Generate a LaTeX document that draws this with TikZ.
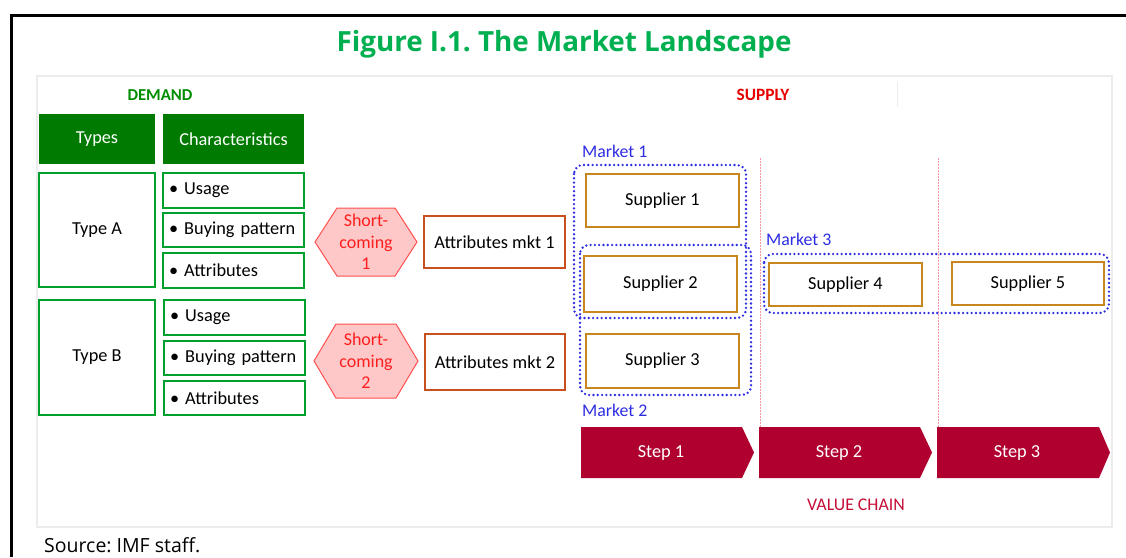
\documentclass[tikz,border=0pt]{standalone}
\usepackage{fontspec}
\setmainfont{Carlito}
\newfontfamily\opensans{Open Sans}
\frenchspacing
\usetikzlibrary{calc}
\definecolor{titlegreen}{RGB}{0,176,80}
\definecolor{demgreen}{RGB}{0,140,0}
\definecolor{headgreen}{RGB}{0,122,0}
\definecolor{boxgreen}{RGB}{0,160,45}
\definecolor{supred}{RGB}{230,0,0}
\definecolor{hexfill}{RGB}{255,200,200}
\definecolor{hexline}{RGB}{255,80,80}
\definecolor{hextext}{RGB}{255,30,30}
\definecolor{attrline}{RGB}{200,80,30}
\definecolor{supline}{RGB}{200,135,30}
\definecolor{mktblue}{RGB}{45,45,225}
\definecolor{steprd}{RGB}{176,0,48}
\definecolor{vcred}{RGB}{195,15,55}
\definecolor{panelgray}{RGB}{236,236,236}
\definecolor{divpink}{RGB}{245,150,160}
\tikzset{
  basefont/.style={font=\fontsize{18.3}{21}\selectfont},
  greenbox/.style={draw=boxgreen, line width=1.8pt, fill=white, basefont, inner sep=0pt},
  headbox/.style={fill=headgreen, text=white, basefont, inner sep=0pt},
  charbox/.style={greenbox, text width=129pt, inner xsep=6pt, align=left},
  hexshape/.style={fill=hexfill, draw=hexline, line width=1pt},
  hexlabel/.style={text=hextext, align=center, font=\fontsize{18}{21.5}\selectfont},
  attrbox/.style={draw=attrline, line width=1.5pt, fill=white, basefont, inner sep=0pt},
  supbox/.style={draw=supline, line width=2pt, fill=white, basefont, inner sep=0pt},
  mktdot/.style={draw=mktblue, line width=2.6pt, dash pattern=on 0pt off 4.3pt, line cap=round, rounded corners=9pt},
  mktlabel/.style={text=mktblue, font=\fontsize{17.8}{21}\selectfont, anchor=west, inner sep=0pt},
  stepshape/.style={fill=steprd},
  steplabel/.style={text=white, basefont},
  divline/.style={draw=divpink, line width=0.8pt, dash pattern=on 1.5pt off 1.5pt},
}
\begin{document}
\begin{tikzpicture}[x=1pt,y=-1pt]
\useasboundingbox (0,0) rectangle (1126,557);
% outer frame
\draw[line width=3pt] (11,557) -- (11,15) -- (1126,15);
% title
\node[text=titlegreen, font=\opensans\bfseries\fontsize{27.8}{32}\selectfont] (title) at (564,44) {Figure I.1. The Market Landscape};
% panel
\draw[draw=panelgray, line width=2pt] (37,76) rectangle (1112,527);
\draw[draw=panelgray, line width=1pt] (897,81) -- (897,107);
% section labels
\node[text=demgreen, font=\bfseries\fontsize{16.7}{19}\selectfont] (demand) at (160,95) {DEMAND};
\node[text=supred, font=\bfseries\fontsize{17.3}{19}\selectfont] (supply) at (763,95) {SUPPLY};
% demand table
\node[headbox, minimum width=116pt, minimum height=50pt] (types) at (97,139) {Types};
\node[headbox, minimum width=141pt, minimum height=50pt] (chars) at (233.5,139) {Characteristics};
\node[greenbox, minimum width=116pt, minimum height=114pt] (typeA) at (97,230) {Type A};
\node[charbox, minimum height=35pt] (usageA) at (233.5,190.5) {• Usage};
\node[charbox, minimum height=34pt] (buyA) at (233.5,230) {• Buying pattern};
\node[charbox, minimum height=35pt] (attrA) at (233.5,270.5) {• Attributes};
\node[greenbox, minimum width=116pt, minimum height=115pt] (typeB) at (97,357.5) {Type B};
\node[charbox, minimum height=35pt] (usageB) at (234.5,317.5) {• Usage};
\node[charbox, minimum height=34pt] (buyB) at (234.5,358) {• Buying pattern};
\node[charbox, minimum height=34pt] (attrB) at (234.5,398) {• Attributes};
% shortcomings
\draw[hexshape, shift={(366,242)}] (-51,0) -- (-29,-34) -- (29,-34) -- (51,0) -- (29,34) -- (-29,34) -- cycle;
\node[hexlabel] (short1) at (366,242) {Short-\\coming\\1};
\draw[hexshape, shift={(366,361)}] (-52,0) -- (-30,-37) -- (30,-37) -- (52,0) -- (30,37) -- (-30,37) -- cycle;
\node[hexlabel] (short2) at (366,361) {Short-\\coming\\2};
% attributes per market
\node[attrbox, minimum width=141pt, minimum height=52pt] (amkt1) at (494.5,242) {Attributes mkt 1};
\node[attrbox, minimum width=140pt, minimum height=56pt] (amkt2) at (495,362) {Attributes mkt 2};
% value chain dividers
\draw[divline] (760,158) -- (760,427);
\draw[divline] (938,158) -- (938,427);
% suppliers
\node[supbox, minimum width=153pt, minimum height=53pt] (sup1) at (662.5,200.5) {Supplier 1};
\node[supbox, minimum width=153pt, minimum height=56pt] (sup2) at (660.5,284) {Supplier 2};
\node[supbox, minimum width=153pt, minimum height=54pt] (sup3) at (662.5,361) {Supplier 3};
\node[supbox, minimum width=153pt, minimum height=43pt] (sup4) at (845.5,284.5) {Supplier 4};
\node[supbox, minimum width=152pt, minimum height=43pt] (sup5) at (1028,283.5) {Supplier 5};
% markets
\draw[mktdot] (574,165) rectangle (746,318);
\draw[mktdot] (580,245) rectangle (751,395);
\draw[mktdot] (764,254) rectangle (1109,313);
\node[mktlabel] (mkt1) at (582,151) {Market 1};
\node[mktlabel] (mkt2) at (582,410) {Market 2};
\node[mktlabel] (mkt3) at (766,239) {Market 3};
% value chain steps
\fill[stepshape] (581,427) -- (742,427) -- (754,452.5) -- (742,478) -- (581,478) -- cycle;
\node[steplabel] (step1) at (661,453) {Step 1};
\fill[stepshape] (759,427) -- (920,427) -- (932,452.5) -- (920,478) -- (759,478) -- cycle;
\node[steplabel] (step2) at (839,453) {Step 2};
\fill[stepshape] (937,427) -- (1099,427) -- (1110,452.5) -- (1099,478) -- (937,478) -- cycle;
\node[steplabel] (step3) at (1017,453) {Step 3};
\node[text=vcred, font=\fontsize{17.8}{21}\selectfont] (vc) at (856,505) {VALUE CHAIN};
% source
\node[anchor=west, inner sep=0pt, font=\opensans\fontsize{19.5}{24}\selectfont] (source) at (44,545) {Source: IMF staff.};
\end{tikzpicture}
\end{document}
